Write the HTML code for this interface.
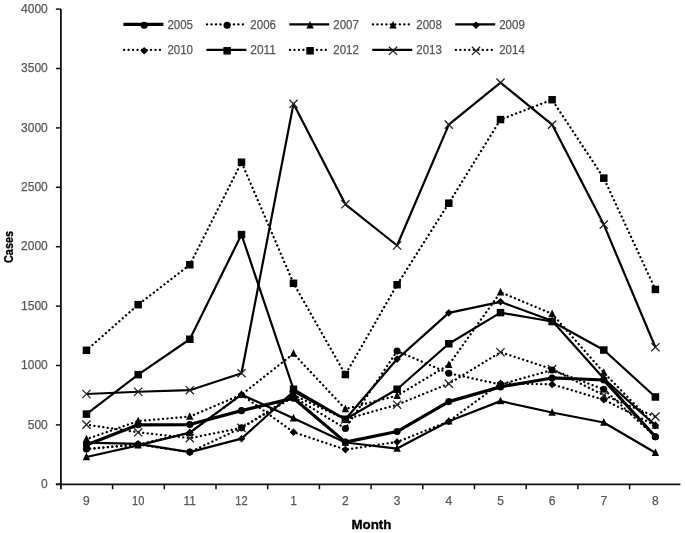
<!DOCTYPE html>
<html><head><meta charset="utf-8">
<style>
html,body{margin:0;padding:0;background:#fff;}
body{width:685px;height:533px;overflow:hidden;}
svg{display:block;will-change:transform;}
.t{font-family:"Liberation Sans",sans-serif;font-size:12px;fill:#595959;stroke:#595959;stroke-width:0.25px;}
.b{font-family:"Liberation Sans",sans-serif;font-size:12px;font-weight:bold;fill:#000;stroke:#000;stroke-width:0.35px;}
</style></head>
<body>
<svg width="685" height="533" viewBox="0 0 685 533">
<rect width="685" height="533" fill="#fff"/>
<line x1="60.90" y1="9.10" x2="60.90" y2="489.30" stroke="#111" stroke-width="1.8"/>
<line x1="55.90" y1="484.30" x2="680.40" y2="484.30" stroke="#111" stroke-width="1.8"/>
<line x1="55.90" y1="484.30" x2="60.90" y2="484.30" stroke="#111" stroke-width="1.5"/>
<text x="47.8" y="488.00" class="t" text-anchor="end">0</text>
<line x1="55.90" y1="424.90" x2="60.90" y2="424.90" stroke="#111" stroke-width="1.5"/>
<text x="47.8" y="428.60" class="t" text-anchor="end">500</text>
<line x1="55.90" y1="365.50" x2="60.90" y2="365.50" stroke="#111" stroke-width="1.5"/>
<text x="47.8" y="369.20" class="t" text-anchor="end">1000</text>
<line x1="55.90" y1="306.10" x2="60.90" y2="306.10" stroke="#111" stroke-width="1.5"/>
<text x="47.8" y="309.80" class="t" text-anchor="end">1500</text>
<line x1="55.90" y1="246.70" x2="60.90" y2="246.70" stroke="#111" stroke-width="1.5"/>
<text x="47.8" y="250.40" class="t" text-anchor="end">2000</text>
<line x1="55.90" y1="187.30" x2="60.90" y2="187.30" stroke="#111" stroke-width="1.5"/>
<text x="47.8" y="191.00" class="t" text-anchor="end">2500</text>
<line x1="55.90" y1="127.90" x2="60.90" y2="127.90" stroke="#111" stroke-width="1.5"/>
<text x="47.8" y="131.60" class="t" text-anchor="end">3000</text>
<line x1="55.90" y1="68.50" x2="60.90" y2="68.50" stroke="#111" stroke-width="1.5"/>
<text x="47.8" y="72.20" class="t" text-anchor="end">3500</text>
<line x1="55.90" y1="9.10" x2="60.90" y2="9.10" stroke="#111" stroke-width="1.5"/>
<text x="47.8" y="12.80" class="t" text-anchor="end">4000</text>
<line x1="112.60" y1="484.30" x2="112.60" y2="489.30" stroke="#111" stroke-width="1.5"/>
<line x1="164.30" y1="484.30" x2="164.30" y2="489.30" stroke="#111" stroke-width="1.5"/>
<line x1="216.00" y1="484.30" x2="216.00" y2="489.30" stroke="#111" stroke-width="1.5"/>
<line x1="267.70" y1="484.30" x2="267.70" y2="489.30" stroke="#111" stroke-width="1.5"/>
<line x1="319.40" y1="484.30" x2="319.40" y2="489.30" stroke="#111" stroke-width="1.5"/>
<line x1="371.10" y1="484.30" x2="371.10" y2="489.30" stroke="#111" stroke-width="1.5"/>
<line x1="422.80" y1="484.30" x2="422.80" y2="489.30" stroke="#111" stroke-width="1.5"/>
<line x1="474.50" y1="484.30" x2="474.50" y2="489.30" stroke="#111" stroke-width="1.5"/>
<line x1="526.20" y1="484.30" x2="526.20" y2="489.30" stroke="#111" stroke-width="1.5"/>
<line x1="577.90" y1="484.30" x2="577.90" y2="489.30" stroke="#111" stroke-width="1.5"/>
<line x1="629.60" y1="484.30" x2="629.60" y2="489.30" stroke="#111" stroke-width="1.5"/>
<text x="86.45" y="505.2" class="t" text-anchor="middle">9</text>
<text x="138.15" y="505.2" class="t" text-anchor="middle" textLength="12.4" lengthAdjust="spacingAndGlyphs">10</text>
<text x="189.80" y="505.2" class="t" text-anchor="middle" textLength="12.4" lengthAdjust="spacingAndGlyphs">11</text>
<text x="241.50" y="505.2" class="t" text-anchor="middle" textLength="12.4" lengthAdjust="spacingAndGlyphs">12</text>
<text x="293.50" y="505.2" class="t" text-anchor="middle">1</text>
<text x="345.40" y="505.2" class="t" text-anchor="middle">2</text>
<text x="397.10" y="505.2" class="t" text-anchor="middle">3</text>
<text x="448.80" y="505.2" class="t" text-anchor="middle">4</text>
<text x="500.50" y="505.2" class="t" text-anchor="middle">5</text>
<text x="552.10" y="505.2" class="t" text-anchor="middle">6</text>
<text x="603.80" y="505.2" class="t" text-anchor="middle">7</text>
<text x="655.40" y="505.2" class="t" text-anchor="middle">8</text>
<polyline points="86.45,394.01 138.15,391.75 189.80,390.21 241.50,373.22 293.50,103.78 345.40,204.29 397.10,245.51 448.80,124.57 500.50,82.64 552.10,124.57 603.80,224.60 655.40,347.20" fill="none" stroke="#000" stroke-width="2.2" stroke-linejoin="round"/>
<path d="M82.35,389.91L90.55,398.11M90.55,389.91L82.35,398.11" stroke="#222" stroke-width="1.3" fill="none"/>
<path d="M134.05,387.65L142.25,395.85M142.25,387.65L134.05,395.85" stroke="#222" stroke-width="1.3" fill="none"/>
<path d="M185.70,386.11L193.90,394.31M193.90,386.11L185.70,394.31" stroke="#222" stroke-width="1.3" fill="none"/>
<path d="M237.40,369.12L245.60,377.32M245.60,369.12L237.40,377.32" stroke="#222" stroke-width="1.3" fill="none"/>
<path d="M289.40,99.68L297.60,107.88M297.60,99.68L289.40,107.88" stroke="#222" stroke-width="1.3" fill="none"/>
<path d="M341.30,200.19L349.50,208.39M349.50,200.19L341.30,208.39" stroke="#222" stroke-width="1.3" fill="none"/>
<path d="M393.00,241.41L401.20,249.61M401.20,241.41L393.00,249.61" stroke="#222" stroke-width="1.3" fill="none"/>
<path d="M444.70,120.47L452.90,128.67M452.90,120.47L444.70,128.67" stroke="#222" stroke-width="1.3" fill="none"/>
<path d="M496.40,78.54L504.60,86.74M504.60,78.54L496.40,86.74" stroke="#222" stroke-width="1.3" fill="none"/>
<path d="M548.00,120.47L556.20,128.67M556.20,120.47L548.00,128.67" stroke="#222" stroke-width="1.3" fill="none"/>
<path d="M599.70,220.50L607.90,228.70M607.90,220.50L599.70,228.70" stroke="#222" stroke-width="1.3" fill="none"/>
<path d="M651.30,343.10L659.50,351.30M659.50,343.10L651.30,351.30" stroke="#222" stroke-width="1.3" fill="none"/>
<polyline points="86.45,350.29 138.15,304.67 189.80,264.76 241.50,162.23 293.50,283.29 345.40,374.53 397.10,284.72 448.80,203.22 500.50,119.58 552.10,99.74 603.80,178.15 655.40,289.47" fill="none" stroke="#000" stroke-width="2.3" stroke-dasharray="0.1 4.38" stroke-dashoffset="0.95" stroke-linecap="round"/>
<rect x="82.70" y="346.54" width="7.50" height="7.50" fill="#000"/>
<rect x="134.40" y="300.92" width="7.50" height="7.50" fill="#000"/>
<rect x="186.05" y="261.01" width="7.50" height="7.50" fill="#000"/>
<rect x="237.75" y="158.48" width="7.50" height="7.50" fill="#000"/>
<rect x="289.75" y="279.54" width="7.50" height="7.50" fill="#000"/>
<rect x="341.65" y="370.78" width="7.50" height="7.50" fill="#000"/>
<rect x="393.35" y="280.97" width="7.50" height="7.50" fill="#000"/>
<rect x="445.05" y="199.47" width="7.50" height="7.50" fill="#000"/>
<rect x="496.75" y="115.83" width="7.50" height="7.50" fill="#000"/>
<rect x="548.35" y="95.99" width="7.50" height="7.50" fill="#000"/>
<rect x="600.05" y="174.40" width="7.50" height="7.50" fill="#000"/>
<rect x="651.65" y="285.72" width="7.50" height="7.50" fill="#000"/>
<polyline points="86.45,414.09 138.15,374.65 189.80,339.25 241.50,234.58 293.50,389.26 345.40,419.32 397.10,389.26 448.80,343.76 500.50,312.63 552.10,321.54 603.80,350.06 655.40,396.98" fill="none" stroke="#000" stroke-width="2.2" stroke-linejoin="round"/>
<rect x="82.70" y="410.34" width="7.50" height="7.50" fill="#000"/>
<rect x="134.40" y="370.90" width="7.50" height="7.50" fill="#000"/>
<rect x="186.05" y="335.50" width="7.50" height="7.50" fill="#000"/>
<rect x="237.75" y="230.83" width="7.50" height="7.50" fill="#000"/>
<rect x="289.75" y="385.51" width="7.50" height="7.50" fill="#000"/>
<rect x="341.65" y="415.57" width="7.50" height="7.50" fill="#000"/>
<rect x="393.35" y="385.51" width="7.50" height="7.50" fill="#000"/>
<rect x="445.05" y="340.01" width="7.50" height="7.50" fill="#000"/>
<rect x="496.75" y="308.88" width="7.50" height="7.50" fill="#000"/>
<rect x="548.35" y="317.79" width="7.50" height="7.50" fill="#000"/>
<rect x="600.05" y="346.31" width="7.50" height="7.50" fill="#000"/>
<rect x="651.65" y="393.23" width="7.50" height="7.50" fill="#000"/>
<polyline points="86.45,424.66 138.15,432.27 189.80,438.21 241.50,427.87 293.50,395.20 345.40,419.32 397.10,404.70 448.80,383.68 500.50,352.19 552.10,369.18 603.80,395.20 655.40,416.58" fill="none" stroke="#000" stroke-width="2.3" stroke-dasharray="0.1 4.38" stroke-dashoffset="0.95" stroke-linecap="round"/>
<path d="M82.35,420.56L90.55,428.76M90.55,420.56L82.35,428.76" stroke="#222" stroke-width="1.3" fill="none"/>
<path d="M134.05,428.17L142.25,436.37M142.25,428.17L134.05,436.37" stroke="#222" stroke-width="1.3" fill="none"/>
<path d="M185.70,434.11L193.90,442.31M193.90,434.11L185.70,442.31" stroke="#222" stroke-width="1.3" fill="none"/>
<path d="M237.40,423.77L245.60,431.97M245.60,423.77L237.40,431.97" stroke="#222" stroke-width="1.3" fill="none"/>
<path d="M289.40,391.10L297.60,399.30M297.60,391.10L289.40,399.30" stroke="#222" stroke-width="1.3" fill="none"/>
<path d="M341.30,415.22L349.50,423.42M349.50,415.22L341.30,423.42" stroke="#222" stroke-width="1.3" fill="none"/>
<path d="M393.00,400.60L401.20,408.80M401.20,400.60L393.00,408.80" stroke="#222" stroke-width="1.3" fill="none"/>
<path d="M444.70,379.58L452.90,387.78M452.90,379.58L444.70,387.78" stroke="#222" stroke-width="1.3" fill="none"/>
<path d="M496.40,348.09L504.60,356.29M504.60,348.09L496.40,356.29" stroke="#222" stroke-width="1.3" fill="none"/>
<path d="M548.00,365.08L556.20,373.28M556.20,365.08L548.00,373.28" stroke="#222" stroke-width="1.3" fill="none"/>
<path d="M599.70,391.10L607.90,399.30M607.90,391.10L599.70,399.30" stroke="#222" stroke-width="1.3" fill="none"/>
<path d="M651.30,412.48L659.50,420.68M659.50,412.48L651.30,420.68" stroke="#222" stroke-width="1.3" fill="none"/>
<polyline points="86.45,449.02 138.15,444.50 189.80,432.62 241.50,394.61 293.50,432.15 345.40,449.61 397.10,442.01 448.80,421.34 500.50,383.32 552.10,384.39 603.80,399.71 655.40,425.49" fill="none" stroke="#000" stroke-width="2.3" stroke-dasharray="0.1 4.38" stroke-dashoffset="0.95" stroke-linecap="round"/>
<polygon points="86.45,445.22 90.25,449.02 86.45,452.82 82.65,449.02" fill="#000"/>
<polygon points="138.15,440.70 141.95,444.50 138.15,448.30 134.35,444.50" fill="#000"/>
<polygon points="189.80,428.82 193.60,432.62 189.80,436.42 186.00,432.62" fill="#000"/>
<polygon points="241.50,390.81 245.30,394.61 241.50,398.41 237.70,394.61" fill="#000"/>
<polygon points="293.50,428.35 297.30,432.15 293.50,435.95 289.70,432.15" fill="#000"/>
<polygon points="345.40,445.81 349.20,449.61 345.40,453.41 341.60,449.61" fill="#000"/>
<polygon points="397.10,438.21 400.90,442.01 397.10,445.81 393.30,442.01" fill="#000"/>
<polygon points="448.80,417.54 452.60,421.34 448.80,425.14 445.00,421.34" fill="#000"/>
<polygon points="500.50,379.52 504.30,383.32 500.50,387.12 496.70,383.32" fill="#000"/>
<polygon points="552.10,380.59 555.90,384.39 552.10,388.19 548.30,384.39" fill="#000"/>
<polygon points="603.80,395.91 607.60,399.71 603.80,403.51 600.00,399.71" fill="#000"/>
<polygon points="655.40,421.69 659.20,425.49 655.40,429.29 651.60,425.49" fill="#000"/>
<polyline points="86.45,442.72 138.15,443.91 189.80,452.11 241.50,438.68 293.50,391.64 345.40,419.32 397.10,359.08 448.80,312.87 500.50,301.82 552.10,320.71 603.80,378.57 655.40,425.49" fill="none" stroke="#000" stroke-width="2.2" stroke-linejoin="round"/>
<polygon points="86.45,438.92 90.25,442.72 86.45,446.52 82.65,442.72" fill="#000"/>
<polygon points="138.15,440.11 141.95,443.91 138.15,447.71 134.35,443.91" fill="#000"/>
<polygon points="189.80,448.31 193.60,452.11 189.80,455.91 186.00,452.11" fill="#000"/>
<polygon points="241.50,434.88 245.30,438.68 241.50,442.48 237.70,438.68" fill="#000"/>
<polygon points="293.50,387.84 297.30,391.64 293.50,395.44 289.70,391.64" fill="#000"/>
<polygon points="345.40,415.52 349.20,419.32 345.40,423.12 341.60,419.32" fill="#000"/>
<polygon points="397.10,355.28 400.90,359.08 397.10,362.88 393.30,359.08" fill="#000"/>
<polygon points="448.80,309.07 452.60,312.87 448.80,316.67 445.00,312.87" fill="#000"/>
<polygon points="500.50,298.02 504.30,301.82 500.50,305.62 496.70,301.82" fill="#000"/>
<polygon points="552.10,316.91 555.90,320.71 552.10,324.51 548.30,320.71" fill="#000"/>
<polygon points="603.80,374.77 607.60,378.57 603.80,382.37 600.00,378.57" fill="#000"/>
<polygon points="655.40,421.69 659.20,425.49 655.40,429.29 651.60,425.49" fill="#000"/>
<polyline points="86.45,439.16 138.15,421.10 189.80,416.58 241.50,394.61 293.50,353.62 345.40,408.98 397.10,395.68 448.80,364.79 500.50,292.20 552.10,313.82 603.80,372.63 655.40,425.49" fill="none" stroke="#000" stroke-width="2.3" stroke-dasharray="0.1 4.38" stroke-dashoffset="0.95" stroke-linecap="round"/>
<polygon points="86.45,434.76 90.15,442.36 82.75,442.36" fill="#000"/>
<polygon points="138.15,416.70 141.85,424.30 134.45,424.30" fill="#000"/>
<polygon points="189.80,412.18 193.50,419.78 186.10,419.78" fill="#000"/>
<polygon points="241.50,390.21 245.20,397.81 237.80,397.81" fill="#000"/>
<polygon points="293.50,349.22 297.20,356.82 289.80,356.82" fill="#000"/>
<polygon points="345.40,404.58 349.10,412.18 341.70,412.18" fill="#000"/>
<polygon points="397.10,391.28 400.80,398.88 393.40,398.88" fill="#000"/>
<polygon points="448.80,360.39 452.50,367.99 445.10,367.99" fill="#000"/>
<polygon points="500.50,287.80 504.20,295.40 496.80,295.40" fill="#000"/>
<polygon points="552.10,309.42 555.80,317.02 548.40,317.02" fill="#000"/>
<polygon points="603.80,368.23 607.50,375.83 600.10,375.83" fill="#000"/>
<polygon points="655.40,421.09 659.10,428.69 651.70,428.69" fill="#000"/>
<polyline points="86.45,456.98 138.15,445.33 189.80,432.62 241.50,394.61 293.50,418.25 345.40,442.48 397.10,448.54 448.80,421.34 500.50,401.14 552.10,412.54 603.80,422.52 655.40,452.82" fill="none" stroke="#000" stroke-width="2.2" stroke-linejoin="round"/>
<polygon points="86.45,452.58 90.15,460.18 82.75,460.18" fill="#000"/>
<polygon points="138.15,440.93 141.85,448.53 134.45,448.53" fill="#000"/>
<polygon points="189.80,428.22 193.50,435.82 186.10,435.82" fill="#000"/>
<polygon points="241.50,390.21 245.20,397.81 237.80,397.81" fill="#000"/>
<polygon points="293.50,413.85 297.20,421.45 289.80,421.45" fill="#000"/>
<polygon points="345.40,438.08 349.10,445.68 341.70,445.68" fill="#000"/>
<polygon points="397.10,444.14 400.80,451.74 393.40,451.74" fill="#000"/>
<polygon points="448.80,416.94 452.50,424.54 445.10,424.54" fill="#000"/>
<polygon points="500.50,396.74 504.20,404.34 496.80,404.34" fill="#000"/>
<polygon points="552.10,408.14 555.80,415.74 548.40,415.74" fill="#000"/>
<polygon points="603.80,418.12 607.50,425.72 600.10,425.72" fill="#000"/>
<polygon points="655.40,448.42 659.10,456.02 651.70,456.02" fill="#000"/>
<polyline points="86.45,449.02 138.15,444.50 189.80,452.11 241.50,427.87 293.50,396.98 345.40,428.46 397.10,351.01 448.80,373.22 500.50,384.51 552.10,370.01 603.80,389.26 655.40,436.78" fill="none" stroke="#000" stroke-width="2.3" stroke-dasharray="0.1 4.38" stroke-dashoffset="0.95" stroke-linecap="round"/>
<circle cx="86.45" cy="449.02" r="3.55" fill="#000"/>
<circle cx="138.15" cy="444.50" r="3.55" fill="#000"/>
<circle cx="189.80" cy="452.11" r="3.55" fill="#000"/>
<circle cx="241.50" cy="427.87" r="3.55" fill="#000"/>
<circle cx="293.50" cy="396.98" r="3.55" fill="#000"/>
<circle cx="345.40" cy="428.46" r="3.55" fill="#000"/>
<circle cx="397.10" cy="351.01" r="3.55" fill="#000"/>
<circle cx="448.80" cy="373.22" r="3.55" fill="#000"/>
<circle cx="500.50" cy="384.51" r="3.55" fill="#000"/>
<circle cx="552.10" cy="370.01" r="3.55" fill="#000"/>
<circle cx="603.80" cy="389.26" r="3.55" fill="#000"/>
<circle cx="655.40" cy="436.78" r="3.55" fill="#000"/>
<polyline points="86.45,445.10 138.15,424.78 189.80,424.54 241.50,410.64 293.50,398.17 345.40,442.13 397.10,431.55 448.80,401.62 500.50,386.88 552.10,377.97 603.80,379.99 655.40,436.78" fill="none" stroke="#000" stroke-width="3.2" stroke-linejoin="round"/>
<circle cx="86.45" cy="445.10" r="3.55" fill="#000"/>
<circle cx="138.15" cy="424.78" r="3.55" fill="#000"/>
<circle cx="189.80" cy="424.54" r="3.55" fill="#000"/>
<circle cx="241.50" cy="410.64" r="3.55" fill="#000"/>
<circle cx="293.50" cy="398.17" r="3.55" fill="#000"/>
<circle cx="345.40" cy="442.13" r="3.55" fill="#000"/>
<circle cx="397.10" cy="431.55" r="3.55" fill="#000"/>
<circle cx="448.80" cy="401.62" r="3.55" fill="#000"/>
<circle cx="500.50" cy="386.88" r="3.55" fill="#000"/>
<circle cx="552.10" cy="377.97" r="3.55" fill="#000"/>
<circle cx="603.80" cy="379.99" r="3.55" fill="#000"/>
<circle cx="655.40" cy="436.78" r="3.55" fill="#000"/>
<line x1="123.40" y1="24.40" x2="163.40" y2="24.40" stroke="#000" stroke-width="3.2" />
<circle cx="144.20" cy="25.30" r="3.55" fill="#000"/>
<text x="167.40" y="28.70" class="t" textLength="25.6" lengthAdjust="spacingAndGlyphs">2005</text>
<line x1="206.35" y1="24.40" x2="246.35" y2="24.40" stroke="#000" stroke-width="2.3" stroke-dasharray="0.1 4.38" stroke-dashoffset="3.83" stroke-linecap="round"/>
<circle cx="227.15" cy="25.30" r="3.55" fill="#000"/>
<text x="250.35" y="28.70" class="t" textLength="25.6" lengthAdjust="spacingAndGlyphs">2006</text>
<line x1="289.30" y1="24.40" x2="329.30" y2="24.40" stroke="#000" stroke-width="2.2" />
<polygon points="310.10,20.90 313.80,28.50 306.40,28.50" fill="#000"/>
<text x="333.30" y="28.70" class="t" textLength="25.6" lengthAdjust="spacingAndGlyphs">2007</text>
<line x1="372.25" y1="24.40" x2="412.25" y2="24.40" stroke="#000" stroke-width="2.3" stroke-dasharray="0.1 4.38" stroke-dashoffset="3.83" stroke-linecap="round"/>
<polygon points="393.05,20.90 396.75,28.50 389.35,28.50" fill="#000"/>
<text x="416.25" y="28.70" class="t" textLength="25.6" lengthAdjust="spacingAndGlyphs">2008</text>
<line x1="455.20" y1="24.40" x2="495.20" y2="24.40" stroke="#000" stroke-width="2.2" />
<polygon points="476.00,21.50 479.80,25.30 476.00,29.10 472.20,25.30" fill="#000"/>
<text x="499.20" y="28.70" class="t" textLength="25.6" lengthAdjust="spacingAndGlyphs">2009</text>
<line x1="123.40" y1="49.90" x2="163.40" y2="49.90" stroke="#000" stroke-width="2.3" stroke-dasharray="0.1 4.38" stroke-dashoffset="3.83" stroke-linecap="round"/>
<polygon points="144.20,47.00 148.00,50.80 144.20,54.60 140.40,50.80" fill="#000"/>
<text x="167.40" y="54.20" class="t" textLength="25.6" lengthAdjust="spacingAndGlyphs">2010</text>
<line x1="206.35" y1="49.90" x2="246.35" y2="49.90" stroke="#000" stroke-width="2.2" />
<rect x="223.40" y="47.05" width="7.50" height="7.50" fill="#000"/>
<text x="250.35" y="54.20" class="t" textLength="25.6" lengthAdjust="spacingAndGlyphs">2011</text>
<line x1="289.30" y1="49.90" x2="329.30" y2="49.90" stroke="#000" stroke-width="2.3" stroke-dasharray="0.1 4.38" stroke-dashoffset="3.83" stroke-linecap="round"/>
<rect x="306.35" y="47.05" width="7.50" height="7.50" fill="#000"/>
<text x="333.30" y="54.20" class="t" textLength="25.6" lengthAdjust="spacingAndGlyphs">2012</text>
<line x1="372.25" y1="49.90" x2="412.25" y2="49.90" stroke="#000" stroke-width="2.2" />
<path d="M388.95,46.70L397.15,54.90M397.15,46.70L388.95,54.90" stroke="#222" stroke-width="1.3" fill="none"/>
<text x="416.25" y="54.20" class="t" textLength="25.6" lengthAdjust="spacingAndGlyphs">2013</text>
<line x1="455.20" y1="49.90" x2="495.20" y2="49.90" stroke="#000" stroke-width="2.3" stroke-dasharray="0.1 4.38" stroke-dashoffset="3.83" stroke-linecap="round"/>
<path d="M471.90,46.70L480.10,54.90M480.10,46.70L471.90,54.90" stroke="#222" stroke-width="1.3" fill="none"/>
<text x="499.20" y="54.20" class="t" textLength="25.6" lengthAdjust="spacingAndGlyphs">2014</text>
<text x="371.4" y="528.6" class="b" text-anchor="middle" textLength="40" lengthAdjust="spacingAndGlyphs">Month</text>
<text transform="translate(13.2,247) rotate(-90)" x="0" y="0" class="b" text-anchor="middle" textLength="32" lengthAdjust="spacingAndGlyphs">Cases</text>
</svg>
</body></html>
